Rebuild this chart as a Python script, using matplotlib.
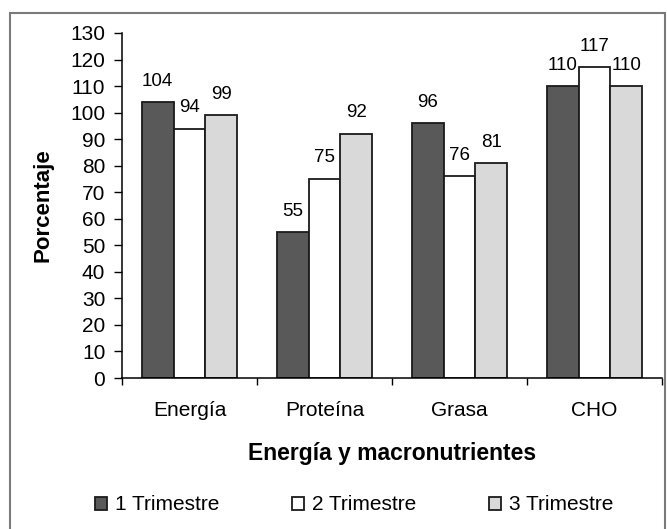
import numpy as np
import matplotlib
matplotlib.use("Agg")
import matplotlib.pyplot as plt
from matplotlib.patches import Rectangle

plt.rcParams['font.family'] = ['Liberation Sans', 'DejaVu Sans']

# ingesta por trimestre (% de adecuación)
categorias = ["Energía", "Proteína", "Grasa", "CHO"]
trim1 = [104, 55, 96, 110]
trim2 = [94, 75, 76, 117]
trim3 = [99, 92, 81, 110]
series = ["1 Trimestre", "2 Trimestre", "3 Trimestre"]
colores = ["#595959", "#ffffff", "#d9d9d9"]

fig = plt.figure(figsize=(6.67, 5.29), dpi=100)
ax = fig.add_axes([122 / 667, 1 - 378 / 529, 540 / 667, 345 / 529])

x = np.arange(len(categorias))
w = 0.237
for k, (vals, nombre, col) in enumerate(zip([trim1, trim2, trim3], series, colores)):
    bars = ax.bar(x + (k - 1) * w, vals, w, color=col, edgecolor="#1a1a1a",
                  linewidth=1.3, label=nombre)
    for b, v in zip(bars, vals):
        ax.annotate(str(v), (b.get_x() + b.get_width() / 2, v),
                    xytext=(0, 9), textcoords="offset points",
                    ha="center", va="bottom", fontsize=13.5)

ax.set_xlim(-0.5, len(categorias) - 0.5)
ax.set_ylim(0, 130)
ax.set_yticks(np.arange(0, 131, 10))
ax.tick_params(axis="y", labelsize=15, length=6, width=1, pad=6)

# marcas en los límites de categoría, etiquetas en el centro
ax.set_xticks(np.arange(-0.5, len(categorias), 1))
ax.set_xticklabels([])
ax.tick_params(axis="x", which="major", length=5, width=1)
ax.set_xticks(x, minor=True)
ax.set_xticklabels(categorias, minor=True)
ax.tick_params(axis="x", which="minor", length=0, labelsize=15, pad=16.5)

for s in ["top", "right"]:
    ax.spines[s].set_visible(False)
for s in ["left", "bottom"]:
    ax.spines[s].set_linewidth(1.1)

ax.set_ylabel("Porcentaje", fontsize=16, fontweight="bold", labelpad=12)
ax.set_xlabel("Energía y macronutrientes", fontsize=16.5, fontweight="bold",
              labelpad=16)

fig.legend(loc="center", bbox_to_anchor=(354 / 667, 1 - 505 / 529), ncol=3,
           frameon=False, fontsize=15, handlelength=0.6, handleheight=0.6,
           handletextpad=0.35, columnspacing=3.5, borderpad=0)

# marco exterior
fig.patches.append(Rectangle((10 / 667, -0.01), 655 / 667, 1 - 13 / 529 + 0.01,
                             transform=fig.transFigure, fill=False,
                             edgecolor="#7a7a7a", linewidth=1.5))

fig.savefig("out.png", dpi=100)
